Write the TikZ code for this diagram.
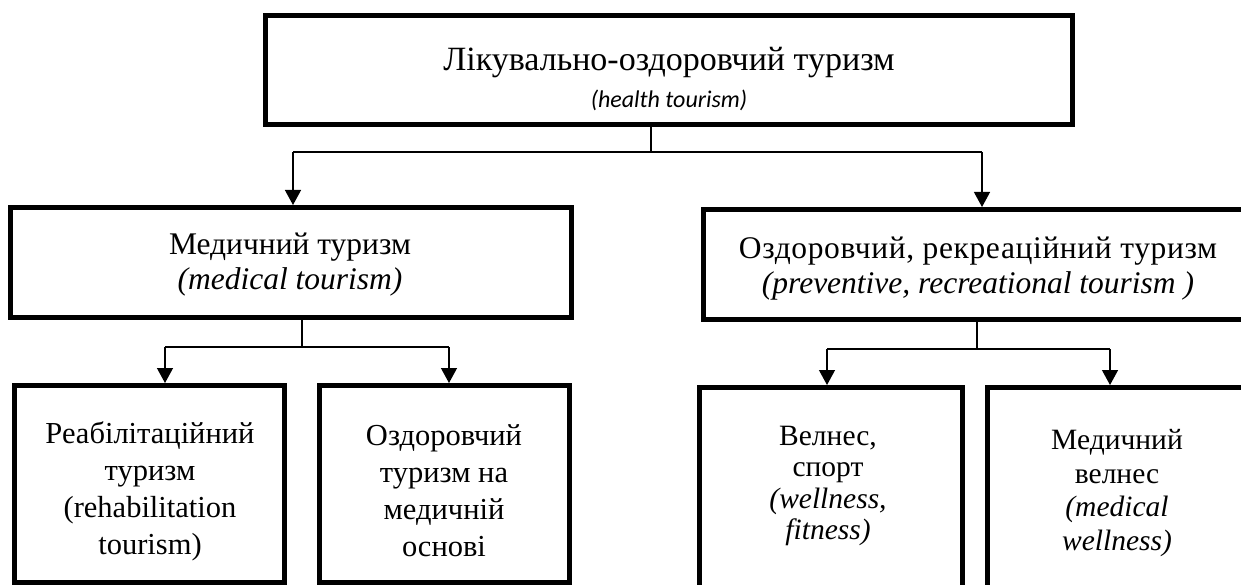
\documentclass[tikz,border=0pt]{standalone}
\usepackage{fontspec}
\setmainfont{Liberation Serif}
\newfontfamily\calfont{Carlito}
\usetikzlibrary{arrows.meta}

\begin{document}
\begin{tikzpicture}[x=1pt,y=-1pt,
        box/.style={draw,line width=5pt,inner sep=0pt},
        txt/.style={align=center,inner sep=0pt},
        conn/.style={line width=1.3pt},
        arr/.style={conn,-{Triangle[length=15pt,width=16pt]}}]
    \useasboundingbox (0,0) rectangle (1241,585);
    % boxes
    \node[box,minimum width=807,minimum height=109] (health) at (669,70) {};
    \node[box,minimum width=561,minimum height=110] (medical) at (291,262.5) {};
    \node[box,minimum width=566.5,minimum height=110] (recreat) at (986.75,264.5) {};
    \node[box,minimum width=270,minimum height=197] (rehab) at (149.5,484) {};
    \node[box,minimum width=250,minimum height=197] (medbase) at (444.5,484) {};
    \node[box,minimum width=263,minimum height=222.5] (wellfit) at (831,498.75) {};
    \node[box,minimum width=282.5,minimum height=222.5] (medwell) at (1128.75,498.75) {};
    % texts
    \node[txt,font=\fontsize{34}{37}\selectfont] (health-t) at (669,79)
        {Лікувально-оздоровчий туризм\\{\calfont\itshape\fontsize{24}{36}\selectfont (health tourism)}};
    \node[txt,font=\fontsize{31.5}{35}\selectfont] (medical-t) at (290,265)
        {Медичний туризм\\\textit{(medical tourism)}};
    \node[txt,font=\fontsize{31.5}{35}\selectfont] (recreat-t) at (978,269)
        {{\addfontfeature{LetterSpace=2}Оздоровчий, рекреаційний туризм}\\\textit{(preventive, recreational tourism )}};
    \node[txt,font=\fontsize{30.5}{37}\selectfont] (rehab-t) at (150,491)
        {Реабілітаційний\\туризм\\(rehabilitation\\tourism)};
    \node[txt,font=\fontsize{30.5}{37}\selectfont] (medbase-t) at (444,491)
        {Оздоровчий\\туризм на\\медичній\\основі};
    \node[txt,font=\fontsize{29.5}{31.5}\selectfont] (wellfit-t) at (828,486)
        {Велнес,\\спорт\\\textit{(wellness,}\\\textit{fitness)}};
    \node[txt,font=\fontsize{29.5}{33.5}\selectfont] (medwell-t) at (1117,493)
        {Медичний\\велнес\\\textit{(medical}\\\textit{wellness)}};
    % connectors
    \coordinate (j0) at (651,152);
    \coordinate (j0l) at (293,152);
    \coordinate (j0r) at (982,152);
    \draw[conn] (health.south -| j0) -- (j0);
    \draw[conn] (j0l) -- (j0r);
    \draw[arr] (j0l) -- (j0l |- medical.north);
    \draw[arr] (j0r) -- (j0r |- recreat.north);
    \coordinate (j1) at (302,347);
    \coordinate (j1l) at (165,347);
    \coordinate (j1r) at (449,347);
    \draw[conn] (medical.south -| j1) -- (j1);
    \draw[conn] (j1l) -- (j1r);
    \draw[arr] (j1l) -- (j1l |- rehab.north);
    \draw[arr] (j1r) -- (j1r |- medbase.north);
    \coordinate (j2) at (977,349);
    \coordinate (j2l) at (827,349);
    \coordinate (j2r) at (1110,349);
    \draw[conn] (recreat.south -| j2) -- (j2);
    \draw[conn] (j2l) -- (j2r);
    \draw[arr] (j2l) -- (j2l |- wellfit.north);
    \draw[arr] (j2r) -- (j2r |- medwell.north);
\end{tikzpicture}
\end{document}
